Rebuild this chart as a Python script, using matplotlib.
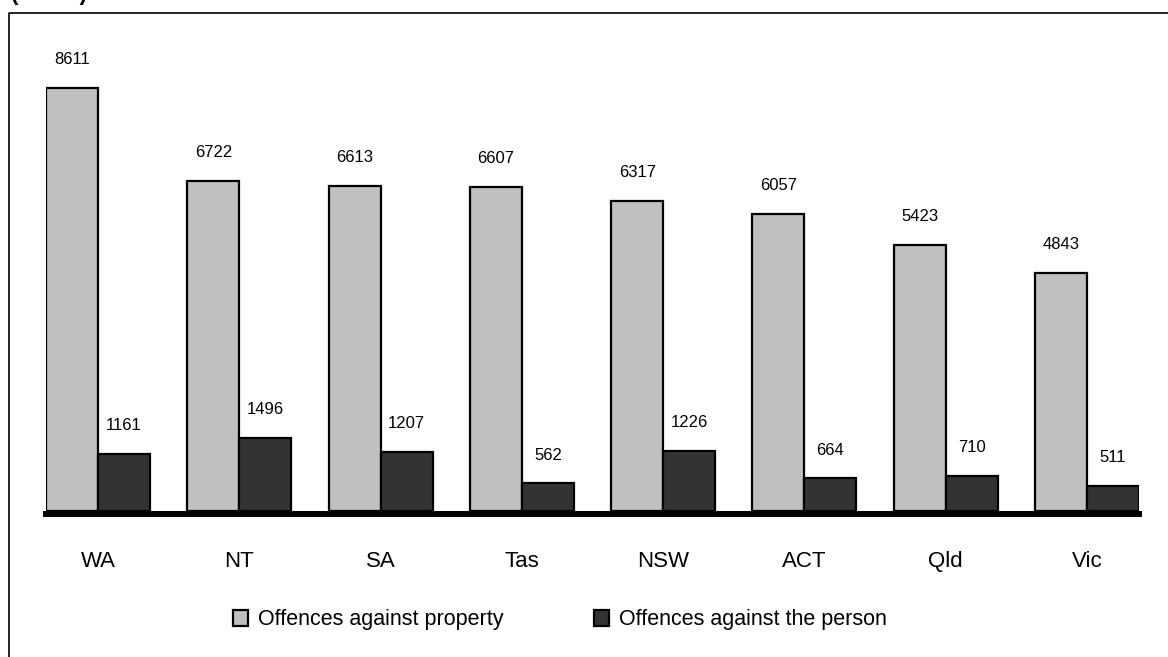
import numpy as np
import matplotlib
matplotlib.use('Agg')
import matplotlib.pyplot as plt
from matplotlib.lines import Line2D

plt.rcParams['font.family'] = ['Liberation Sans', 'DejaVu Sans']

# Recorded offences per 100,000 persons by state / territory
states = ['WA', 'NT', 'SA', 'Tas', 'NSW', 'ACT', 'Qld', 'Vic']
property_offences = [8611, 6722, 6613, 6607, 6317, 6057, 5423, 4843]
person_offences = [1161, 1496, 1207, 562, 1226, 664, 710, 511]

W, H = 1168, 657
fig = plt.figure(figsize=(W / 100, H / 100), dpi=100)

# axes placed in pixel terms: left 46, right 1139, baseline 511, top 20
ax = fig.add_axes([46 / W, (H - 511) / H, (1139 - 46) / W, (511 - 20) / H])

x = np.arange(len(states))
w = 0.368
b1 = ax.bar(x - w / 2, property_offences, w, color='#c0c0c0', edgecolor='black',
            linewidth=1.6, label='Offences against property')
b2 = ax.bar(x + w / 2, person_offences, w, color='#333333', edgecolor='black',
            linewidth=1.6, label='Offences against the person')

for bars, vals in ((b1, property_offences), (b2, person_offences)):
    for rect, v in zip(bars, vals):
        ax.annotate(str(v), (rect.get_x() + rect.get_width() / 2, v),
                    xytext=(0, 15), textcoords='offset points',
                    ha='center', va='bottom', fontsize=12)

ax.set_xlim(-w, len(states) - 1 + w)
ax.set_ylim(0, 10000)
# heavy baseline sitting just under the bars
ax.axhline(-55, color='black', linewidth=4.3, zorder=5, clip_on=False)

for s in ['top', 'right', 'left', 'bottom']:
    ax.spines[s].set_visible(False)
ax.set_yticks([])
ax.set_xticks(x)
ax.set_xticklabels(states, fontsize=16)
ax.tick_params(axis='x', length=0, pad=40)
for lab in ax.get_xticklabels():
    lab.set_verticalalignment('baseline')

fig.legend(handles=[b1, b2], loc='center', bbox_to_anchor=(560 / W, 1 - 620 / H),
           ncol=2, frameon=False, fontsize=15.5, handlelength=0.7, handleheight=0.7,
           handletextpad=0.45, columnspacing=4.2)

# outer frame line (left and top edges)
fig.add_artist(Line2D([8.5 / W, 8.5 / W, 1.01], [-0.01, 1 - 12.5 / H, 1 - 12.5 / H],
                      transform=fig.transFigure, color='black', linewidth=1.2))

# heading, mostly clipped by the top edge
fig.text(11 / W, 1.0, '(          )', fontsize=16, fontweight='bold',
         ha='left', va='baseline')

fig.savefig('out.png', dpi=100)
